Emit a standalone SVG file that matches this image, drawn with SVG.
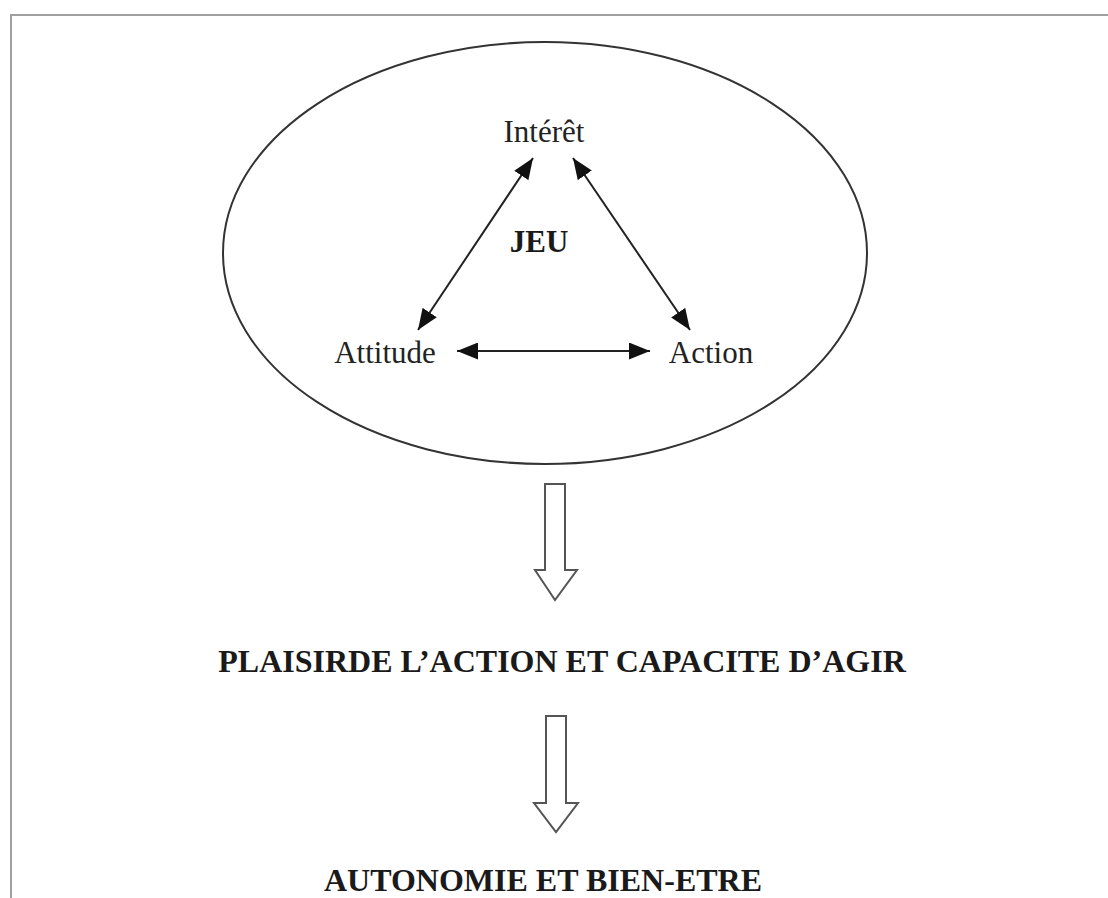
<svg xmlns="http://www.w3.org/2000/svg" width="1108" height="898" viewBox="0 0 1108 898">
  <defs>
    <marker id="ah" viewBox="0 0 10 10" refX="10" refY="5" markerWidth="21" markerHeight="17" markerUnits="userSpaceOnUse" orient="auto-start-reverse" preserveAspectRatio="none">
      <path d="M0,0 L10,5 L0,10 Z" fill="#111"/>
    </marker>
    <style>
      .lbl { font-family: "Liberation Serif", "Times New Roman", serif; font-size: 31px; fill: #222; }
      .bold { font-family: "Liberation Serif", "Times New Roman", serif; font-size: 32px; font-weight: bold; fill: #1a1a1a; }
      .conn { stroke: #222; stroke-width: 2; fill: none; marker-start: url(#ah); marker-end: url(#ah); }
      .hollow { fill: #fff; stroke: #555; stroke-width: 2; stroke-linejoin: miter; }
      .frame { stroke: #a0a0a0; stroke-width: 2; fill: none; }
    </style>
  </defs>
  <rect width="1108" height="898" fill="#fff"/>
  <g id="frame">
    <path class="frame" d="M11,898 L11,15 L1108,15"/>
  </g>
  <g id="jeu">
    <ellipse cx="545" cy="253" rx="322" ry="211" fill="none" stroke="#333" stroke-width="2"/>
    <text class="bold" x="539" y="252" text-anchor="middle" style="font-size:31px">JEU</text>
  </g>
  <g id="interet">
    <text class="lbl" x="544" y="142" text-anchor="middle">Intérêt</text>
  </g>
  <g id="attitude">
    <text class="lbl" x="385" y="363" text-anchor="middle">Attitude</text>
  </g>
  <g id="action">
    <text class="lbl" x="711" y="363" text-anchor="middle">Action</text>
  </g>
  <g id="connectors">
    <line class="conn" x1="533" y1="158" x2="418" y2="330"/>
    <line class="conn" x1="573" y1="158" x2="690" y2="330"/>
    <line class="conn" x1="457" y1="351" x2="650" y2="351"/>
    <path class="hollow" d="M545,484 L565,484 L565,570 L577,570 L555,600 L535,570 L545,570 Z"/>
    <path class="hollow" d="M546,716 L566,716 L566,803 L578,803 L556,832 L534,803 L546,803 Z"/>
  </g>
  <g id="plaisir">
    <text class="bold" x="562" y="672" text-anchor="middle">PLAISIRDE L’ACTION ET CAPACITE D’AGIR</text>
  </g>
  <g id="autonomie">
    <text class="bold" x="543" y="891" text-anchor="middle">AUTONOMIE ET BIEN-ETRE</text>
  </g>
</svg>
